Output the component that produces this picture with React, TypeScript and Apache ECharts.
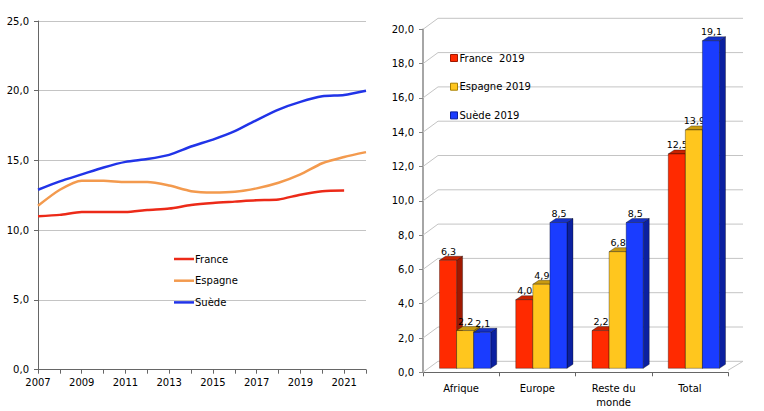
import { useEffect, useRef } from "react";
import * as echarts from "echarts";

// left chart: yearly series
const years = [
  "2007", "2008", "2009", "2010", "2011", "2012", "2013", "2014",
  "2015", "2016", "2017", "2018", "2019", "2020", "2021", "2022",
];
const france = [11.0, 11.1, 11.3, 11.3, 11.3, 11.45, 11.55, 11.8, 11.95, 12.05, 12.15, 12.2, 12.55, 12.8, 12.85, null];
const espagne = [11.75, 12.9, 13.55, 13.55, 13.45, 13.45, 13.2, 12.8, 12.7, 12.75, 13.0, 13.4, 14.0, 14.8, 15.25, 15.6];
const suede = [12.9, 13.5, 14.0, 14.5, 14.9, 15.1, 15.4, 16.0, 16.5, 17.1, 17.9, 18.65, 19.2, 19.6, 19.7, 20.0];

// right chart: 2019 by region
const regions = ["Afrique", "Europe", "Reste du\nmonde", "Total"];
const france2019 = [6.3, 4.0, 2.2, 12.5];
const espagne2019 = [2.2, 4.9, 6.8, 13.9];
const suede2019 = [2.1, 8.5, 8.5, 19.1];
const barTicks = [0, 2, 4, 6, 8, 10, 12, 14, 16, 18, 20];

const FONT = "DejaVu Sans";
const fmt = (v: number) => v.toFixed(1).replace(".", ",");

// fake 3d geometry (px)
const WALL_DX = 15;
const WALL_DY = -11;
const BAR_DX = 6;
const BAR_DY = -4;
const SHIFT_X = 4;
const SHIFT_Y = -4;

const barColors = [
  { front: "#FF2A00", top: "#C82200", side: "#A01800" },
  { front: "#FFC61E", top: "#C89A10", side: "#A88000" },
  { front: "#1A3CFF", top: "#1430C8", side: "#0B20A0" },
];

function barRenderer(k: number) {
  const c = barColors[k];
  return (params: any, api: any) => {
    const cat = api.value(0);
    const v = api.value(1);
    const base = api.coord([cat, 0]);
    const top = api.coord([cat, v]);
    const band = api.size([1, 0])[0];
    const w = band * 0.224;
    const x = base[0] - 1.5 * w + k * w + SHIFT_X;
    const by = base[1] + SHIFT_Y;
    const ty = top[1] + SHIFT_Y;
    const stroke = { stroke: "rgba(0,0,0,0.55)", lineWidth: 0.6 };
    return {
      type: "group",
      children: [
        {
          type: "polygon",
          shape: { points: [[x + w, ty], [x + w + BAR_DX, ty + BAR_DY], [x + w + BAR_DX, by + BAR_DY], [x + w, by]] },
          style: { fill: c.side, ...stroke },
        },
        {
          type: "polygon",
          shape: { points: [[x, ty], [x + BAR_DX, ty + BAR_DY], [x + w + BAR_DX, ty + BAR_DY], [x + w, ty]] },
          style: { fill: c.top, ...stroke },
        },
        {
          type: "rect",
          shape: { x, y: ty, width: w, height: by - ty },
          style: { fill: c.front, ...stroke },
        },
        {
          type: "text",
          style: {
            text: fmt(v),
            x: x + w / 2 + 0.5,
            y: ty - 4,
            align: "center",
            verticalAlign: "bottom",
            fontSize: 9.5,
            fontFamily: FONT,
            fill: "#000",
          },
        },
      ],
    };
  };
}

function wallRenderer(params: any, api: any) {
  const v = api.value(1);
  const y = api.coord([0, v])[1];
  const cs = params.coordSys;
  const x0 = cs.x;
  const x1 = cs.x + cs.width;
  const style = { stroke: "#C4C4C4", lineWidth: 1, fill: null };
  const children: any[] = [
    {
      type: "polyline",
      shape: { points: [[x0, y], [x0 + WALL_DX, y + WALL_DY], [x1 + WALL_DX, y + WALL_DY]] },
      style,
    },
  ];
  if (v === 0) {
    children.push({
      type: "line",
      shape: { x1: x1, y1: y - 2, x2: x1 + WALL_DX, y2: y + WALL_DY },
      style,
    });
  }
  return { type: "group", children };
}

export default function App() {
  const chartRef = useRef<HTMLDivElement>(null);

  useEffect(() => {
    if (!chartRef.current) return;
    document.body.style.margin = "0";
    const chart = echarts.init(chartRef.current, null, { renderer: "svg" });

    const axisText = { fontSize: 10, fontFamily: FONT, color: "#000" };
    const lineSeries = [
      { name: "France", data: france, color: "#EC2A18" },
      { name: "Espagne", data: espagne, color: "#F39A4E" },
      { name: "Suède", data: suede, color: "#2134E8" },
    ];
    const barSeries = [
      { name: "France  2019", data: france2019 },
      { name: "Espagne 2019", data: espagne2019 },
      { name: "Suède 2019", data: suede2019 },
    ];

    const option: any = {
      animation: false,
      textStyle: { fontFamily: FONT },
      grid: [
        { left: 38, top: 21, width: 328, height: 348.7 },
        { left: 423, top: 29.3, width: 305, height: 343 },
      ],
      legend: [
        {
          orient: "vertical",
          left: 174,
          top: 253,
          padding: 0,
          icon: "rect",
          itemWidth: 20,
          itemHeight: 2.5,
          itemGap: 9.7,
          selectedMode: false,
          textStyle: { fontSize: 10, lineHeight: 12, fontFamily: FONT, color: "#000", padding: [0, 0, 0, -4] },
          data: lineSeries.map((s) => ({ name: s.name, itemStyle: { color: s.color } })),
        },
        {
          orient: "vertical",
          left: 450,
          top: 52,
          padding: 0,
          icon: "rect",
          itemWidth: 7,
          itemHeight: 7,
          itemGap: 16.7,
          selectedMode: false,
          textStyle: { fontSize: 10, lineHeight: 12, fontFamily: FONT, color: "#000", padding: [0, 0, 0, -3] },
          data: barSeries.map((s, i) => ({
            name: s.name,
            itemStyle: { color: barColors[i].front, borderColor: barColors[i].side, borderWidth: 1 },
          })),
        },
      ],
      xAxis: [
        {
          gridIndex: 0,
          type: "category",
          data: years,
          boundaryGap: false,
          axisLine: { lineStyle: { color: "#666", width: 1 } },
          axisTick: { show: true, interval: 0, length: 4, lineStyle: { color: "#666" } },
          axisLabel: { ...axisText, interval: 1, margin: 8 },
          splitLine: { show: false },
        },
        {
          gridIndex: 1,
          type: "category",
          data: regions,
          axisLine: { lineStyle: { color: "#666", width: 1 } },
          axisTick: { show: true, length: 4, lineStyle: { color: "#666" } },
          axisLabel: { ...axisText, interval: 0, margin: 9, lineHeight: 14 },
          splitLine: { show: false },
        },
      ],
      yAxis: [
        {
          gridIndex: 0,
          type: "value",
          min: 0,
          max: 25,
          interval: 5,
          axisLine: { show: true, lineStyle: { color: "#666", width: 1 } },
          axisTick: { show: true, length: 4, lineStyle: { color: "#666" } },
          axisLabel: { ...axisText, margin: 9, formatter: (v: number) => fmt(v) },
          splitLine: { show: true, lineStyle: { color: "#C4C4C4", width: 1 } },
        },
        {
          gridIndex: 1,
          type: "value",
          min: 0,
          max: 20,
          interval: 2,
          axisLine: { show: true, lineStyle: { color: "#888", width: 1.5 } },
          axisTick: { show: true, length: 4, lineStyle: { color: "#888" } },
          axisLabel: { ...axisText, margin: 9, formatter: (v: number) => fmt(v) },
          splitLine: { show: false },
        },
      ],
      series: [
        ...lineSeries.map((s) => ({
          name: s.name,
          type: "line",
          xAxisIndex: 0,
          yAxisIndex: 0,
          data: s.data,
          showSymbol: false,
          smooth: 0.25,
          color: s.color,
          lineStyle: { width: 2.5, color: s.color },
        })),
        {
          name: "wall",
          type: "custom",
          xAxisIndex: 1,
          yAxisIndex: 1,
          z: 1,
          clip: false,
          silent: true,
          data: barTicks.map((v) => [0, v]),
          renderItem: wallRenderer,
        },
        ...barSeries.map((s, k) => ({
          name: s.name,
          type: "custom",
          xAxisIndex: 1,
          yAxisIndex: 1,
          z: 3,
          clip: false,
          color: barColors[k].front,
          data: s.data.map((v, i) => [i, v]),
          encode: { x: 0, y: 1 },
          renderItem: barRenderer(k),
        })),
      ],
    };

    chart.setOption(option);
    return () => {
      chart.dispose();
    };
  }, []);

  return <div ref={chartRef} style={{ width: "764px", height: "411px" }} />;
}
